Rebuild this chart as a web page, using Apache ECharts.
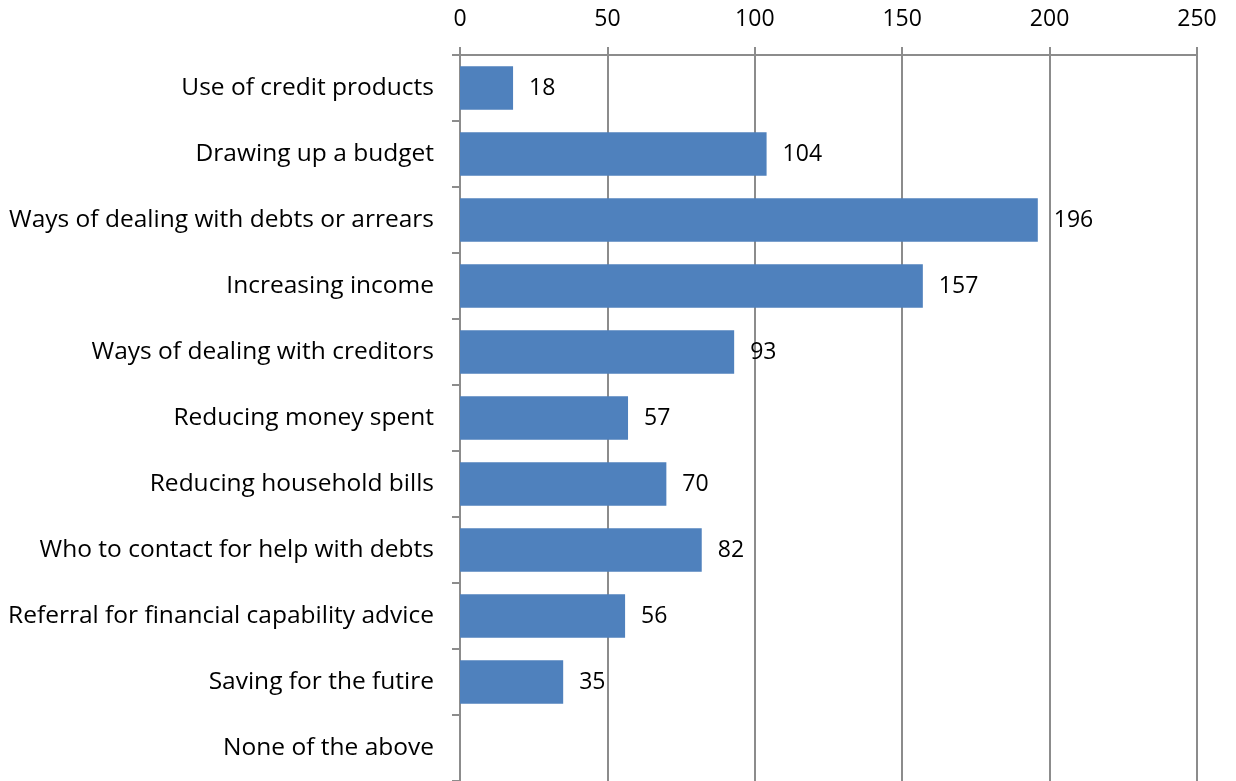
<!DOCTYPE html>
<html>
<head>
<meta charset="utf-8">
<script src="https://cdn.jsdelivr.net/npm/echarts@6/dist/echarts.min.js"></script>
<style>
  html, body { margin: 0; padding: 0; background: #ffffff; }
  #chart { width: 1236px; height: 781px; }
</style>
</head>
<body>
<div id="chart"></div>
<script>
// Topics discussed, listed top to bottom
const categories = [
  'Use of credit products',
  'Drawing up a budget',
  'Ways of dealing with debts or arrears',
  'Increasing income',
  'Ways of dealing with creditors',
  'Reducing money spent',
  'Reducing household bills',
  'Who to contact for help with debts',
  'Referral for financial capability advice',
  'Saving for the futire',
  'None of the above'
];
const counts = [18, 104, 196, 157, 93, 57, 70, 82, 56, 35, 0];
const valueTicks = [0, 50, 100, 150, 200, 250];

const FONT = '"Open Sans", "Noto Sans", sans-serif';
const GREY = '#8c8c8c';

const chart = echarts.init(document.getElementById('chart'), null, { renderer: 'canvas' });
chart.setOption({
  animation: false,
  backgroundColor: '#ffffff',
  grid: { left: 460, right: 39, top: 55, bottom: 0, containLabel: false },
  xAxis: {
    type: 'value',
    position: 'top',
    min: valueTicks[0],
    max: valueTicks[valueTicks.length - 1],
    interval: valueTicks[1] - valueTicks[0],
    axisLine: { show: true, lineStyle: { color: GREY, width: 2 } },
    axisTick: { show: true, length: 8, lineStyle: { color: GREY, width: 2 } },
    splitLine: { show: true, lineStyle: { color: GREY, width: 2 } },
    axisLabel: { color: '#000', fontFamily: FONT, fontSize: 23, margin: 24 }
  },
  yAxis: {
    type: 'category',
    data: categories,
    inverse: true,
    axisLine: { show: true, lineStyle: { color: GREY, width: 2 } },
    axisTick: { show: true, length: 8, lineStyle: { color: GREY, width: 2 } },
    splitLine: { show: false },
    axisLabel: { color: '#000', fontFamily: FONT, fontSize: 24.5, margin: 26 }
  },
  series: [{
    type: 'bar',
    data: counts,
    barCategoryGap: '34%',
    itemStyle: { color: '#4f81bd' },
    label: {
      show: true,
      position: 'right',
      distance: 16,
      color: '#000',
      fontFamily: FONT,
      fontSize: 23,
      formatter: p => (p.value ? String(p.value) : '')
    }
  }]
});
</script>
</body>
</html>
